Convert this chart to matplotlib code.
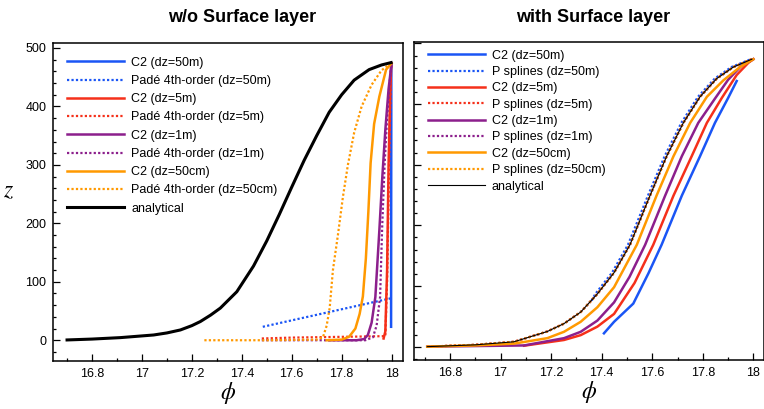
import matplotlib.pyplot as plt
from matplotlib.ticker import MultipleLocator

plt.rcParams['font.family'] = ['Liberation Sans', 'DejaVu Sans']
plt.rcParams['mathtext.fontset'] = 'stix'

# colores de las series
azul, rojo, morado, naranja = '#1a55f5', '#f5301a', '#8c1f8c', '#ff9900'

# ---------------- panel izquierdo: sin capa superficial ----------------
ana_l_x = [16.70, 16.8, 16.914, 17.047, 17.1, 17.154, 17.2, 17.234, 17.275, 17.314, 17.38, 17.447,
           17.5, 17.55, 17.6, 17.65, 17.7, 17.75, 17.8, 17.85, 17.91, 17.96, 17.998]
ana_l_z = [0.5, 2, 4.5, 9, 12.5, 17.6, 25, 32, 43, 55, 83, 127, 170, 215, 262, 308, 350, 390, 420,
           445, 463, 471, 475]

c2_50m_l_x = [17.998, 17.999]
c2_50m_l_z = [23, 474]
pade_50m_x = [17.484, 18.0]
pade_50m_z = [23, 72]

c2_5m_l_x = [17.968, 17.975, 17.982, 17.988, 17.994, 17.999]
c2_5m_l_z = [3, 15, 120, 300, 420, 474]
pade_5m_x = [17.48, 17.6, 17.75, 17.9, 17.975, 17.982, 17.99, 17.998]
pade_5m_z = [3, 4.5, 5.5, 6.5, 7, 100, 300, 474]

c2_1m_l_x = [17.75, 17.86, 17.89, 17.905, 17.92, 17.935, 17.951, 17.963, 17.975, 17.988, 18.0]
c2_1m_l_z = [0, 0, 2, 9, 30, 74, 188, 280, 360, 430, 474]
pade_1m_x = [17.48, 17.895, 17.925, 17.94, 17.954, 17.962, 17.972, 17.982, 17.992, 18.0]
pade_1m_z = [0, 0, 5, 25, 74, 190, 300, 380, 440, 474]

c2_50cm_l_x = [17.74, 17.8, 17.83, 17.855, 17.872, 17.885, 17.897, 17.907, 17.916, 17.93, 17.951,
               17.978, 18.0]
c2_50cm_l_z = [0, 1, 6, 20, 45, 75, 140, 220, 303, 370, 417, 463, 474]
pade_50cm_x = [17.25, 17.5, 17.7, 17.725, 17.74, 17.752, 17.765, 17.785, 17.805, 17.825, 17.85,
               17.88, 17.92, 17.96, 18.0]
pade_50cm_z = [0, 0, 1, 5, 25, 55, 120, 180, 245, 300, 355, 400, 437, 462, 474]

# ---------------- panel derecho: con capa superficial ----------------
ana_r_x = [16.71, 16.9, 17.053, 17.185, 17.251, 17.317, 17.383, 17.449, 17.512, 17.591, 17.657,
           17.723, 17.789, 17.855, 17.921, 17.994]
ana_r_z = [0, 3, 8, 25, 38, 57, 87, 122, 168, 249, 314, 369, 412, 442, 461, 474]

c2_50m_r_x = [17.409, 17.449, 17.525, 17.585, 17.637, 17.717, 17.789, 17.848, 17.90, 17.934]
c2_50m_r_z = [22, 41, 71, 121, 168, 249, 314, 369, 410, 438]
ps_50m_x = [17.36, 17.375, 17.441, 17.504, 17.583, 17.649, 17.715, 17.781, 17.847, 17.913, 17.99]
ps_50m_z = [76, 87, 122, 168, 249, 314, 369, 412, 442, 461, 474]

c2_5m_r_x = [17.093, 17.251, 17.317, 17.383, 17.449, 17.53, 17.604, 17.684, 17.756, 17.816,
             17.875, 17.934, 17.98, 18.0]
c2_5m_r_z = [1.6, 11, 19, 33, 54, 105, 168, 249, 314, 369, 410, 448, 468, 474]

c2_1m_r_x = [16.71, 16.9, 17.093, 17.251, 17.317, 17.383, 17.449, 17.51, 17.572, 17.651, 17.717,
             17.782, 17.848, 17.90, 17.95, 18.0]
c2_1m_r_z = [0, 1, 2, 14, 24.5, 43, 73, 115, 168, 249, 314, 369, 409, 440, 462, 474]

c2_50cm_r_x = [16.71, 16.9, 17.053, 17.185, 17.251, 17.317, 17.383, 17.449, 17.539, 17.617,
               17.684, 17.75, 17.816, 17.881, 17.947, 18.0]
c2_50cm_r_z = [0, 2, 5, 14, 24.5, 41, 65, 98, 168, 249, 314, 369, 412, 439, 461, 474]

# los P splines de 5m, 1m y 50cm quedan encima de la analitica
ps_5m_x, ps_5m_z = ana_r_x, ana_r_z
ps_1m_x, ps_1m_z = ana_r_x, ana_r_z
ps_50cm_x, ps_50cm_z = ana_r_x, ana_r_z

punteado = (0, (1, 1))

fig = plt.figure(figsize=(7.64, 4.09), dpi=100)
ax1 = fig.add_axes([0.0698, 0.1181, 0.4581, 0.7760])
ax2 = fig.add_axes([0.5423, 0.1198, 0.4577, 0.7770])

ax1.plot(c2_50m_l_x, c2_50m_l_z, color=azul, lw=1.8, label='C2 (dz=50m)')
ax1.plot(pade_50m_x, pade_50m_z, color=azul, lw=1.6, ls=punteado, label='Padé 4th-order (dz=50m)')
ax1.plot(c2_5m_l_x, c2_5m_l_z, color=rojo, lw=1.8, label='C2 (dz=5m)')
ax1.plot(pade_5m_x, pade_5m_z, color=rojo, lw=1.6, ls=punteado, label='Padé 4th-order (dz=5m)')
ax1.plot(c2_1m_l_x, c2_1m_l_z, color=morado, lw=1.8, label='C2 (dz=1m)')
ax1.plot(pade_1m_x, pade_1m_z, color=morado, lw=1.6, ls=punteado, label='Padé 4th-order (dz=1m)')
ax1.plot(c2_50cm_l_x, c2_50cm_l_z, color=naranja, lw=1.8, label='C2 (dz=50cm)')
ax1.plot(pade_50cm_x, pade_50cm_z, color=naranja, lw=1.6, ls=punteado, label='Padé 4th-order (dz=50cm)')
ax1.plot(ana_l_x, ana_l_z, color='black', lw=2.2, label='analytical')

ax2.plot(c2_50m_r_x, c2_50m_r_z, color=azul, lw=1.8, label='C2 (dz=50m)')
ax2.plot(ps_50m_x, ps_50m_z, color=azul, lw=1.6, ls=punteado, label='P splines (dz=50m)')
ax2.plot(c2_5m_r_x, c2_5m_r_z, color=rojo, lw=1.8, label='C2 (dz=5m)')
ax2.plot(ps_5m_x, ps_5m_z, color=rojo, lw=1.6, ls=punteado, label='P splines (dz=5m)')
ax2.plot(c2_1m_r_x, c2_1m_r_z, color=morado, lw=1.8, label='C2 (dz=1m)')
ax2.plot(ps_1m_x, ps_1m_z, color=morado, lw=1.6, ls=punteado, label='P splines (dz=1m)')
ax2.plot(c2_50cm_r_x, c2_50cm_r_z, color=naranja, lw=1.8, label='C2 (dz=50cm)')
ax2.plot(ps_50cm_x, ps_50cm_z, color=naranja, lw=1.6, ls=punteado, label='P splines (dz=50cm)')
ax2.plot(ana_r_x, ana_r_z, color='black', lw=0.8, label='analytical')

ax1.set_xlim(16.645, 18.047)
ax1.set_ylim(-35, 508)
ax2.set_xlim(16.659, 18.042)
ax2.set_ylim(-22, 502)

for ax in (ax1, ax2):
    ax.xaxis.set_major_locator(MultipleLocator(0.2))
    ax.xaxis.set_minor_locator(MultipleLocator(0.1))
    ax.yaxis.set_major_locator(MultipleLocator(100))
    ax.yaxis.set_minor_locator(MultipleLocator(20))
    ax.tick_params(which='both', direction='in', labelsize=9, width=0.9)
    ax.tick_params(which='major', length=5, pad=5)
    ax.tick_params(which='minor', length=2.5)
    ax.xaxis.set_major_formatter(plt.FuncFormatter(lambda v, p: f'{v:g}'))
    for s in ax.spines.values():
        s.set_linewidth(1.1)
    ax.set_xlabel(r'$\phi$', fontsize=17, labelpad=0)

ax2.tick_params(axis='y', labelleft=False)
ax1.set_ylabel(r'$z$', fontsize=17, rotation=0, labelpad=12)

ax1.legend(loc='upper left', bbox_to_anchor=(0.039, 0.958), frameon=False, fontsize=9,
           handlelength=4.6, handletextpad=0.55, labelspacing=0.5, borderpad=0, borderaxespad=0)
ax2.legend(loc='upper left', bbox_to_anchor=(0.039, 0.977), frameon=False, fontsize=9,
           handlelength=4.6, handletextpad=0.5, labelspacing=0.35, borderpad=0, borderaxespad=0)

fig.text(0.317, 0.958, 'w/o Surface layer', ha='center', va='center', fontsize=13, fontweight='bold')
fig.text(0.776, 0.958, 'with Surface layer', ha='center', va='center', fontsize=13, fontweight='bold')

fig.savefig('out.png', dpi=100)
